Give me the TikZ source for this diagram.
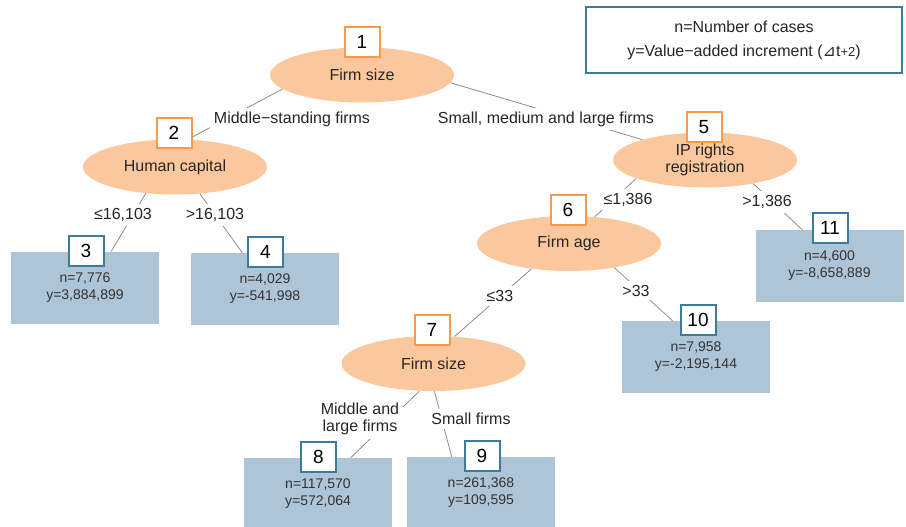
\documentclass[tikz,border=0pt]{standalone}
\usepackage{fontspec}
\setmainfont{Liberation Sans}
\newfontfamily\symfont{DejaVu Sans}
\usetikzlibrary{shapes.geometric}
\definecolor{peach}{HTML}{FAC89C}
\definecolor{orangeb}{HTML}{F79A4C}
\definecolor{leafblue}{HTML}{AEC4D7}
\definecolor{steelb}{HTML}{3E7A9C}
\definecolor{linegray}{HTML}{8C8C8C}
\tikzset{
  decision/.style={ellipse, fill=peach, draw=none, minimum width=184pt, minimum height=55pt, inner sep=0pt, align=center, font=\fontsize{16}{18}\selectfont, text=black!85},
  dnum/.style={draw=orangeb, line width=2pt, fill=white, minimum width=35pt, minimum height=30pt, inner sep=0pt, font=\fontsize{19}{20}\selectfont},
  leaf/.style={rectangle, fill=leafblue, draw=none, minimum width=148pt, minimum height=72pt, inner sep=0pt, align=center, font=\fontsize{14}{17}\selectfont, text=black!80},
  lnum/.style={draw=steelb, line width=2pt, fill=white, minimum width=35pt, minimum height=30pt, inner sep=0pt, font=\fontsize{19}{20}\selectfont},
  elabel/.style={fill=white, inner sep=4pt, align=center, font=\fontsize{16}{17}\selectfont, text=black!85},
  conn/.style={draw=linegray, line width=0.8pt},
  legendbox/.style={draw=steelb, line width=2pt, fill=white, minimum width=316pt, minimum height=66pt, align=center, font=\fontsize{16}{24}\selectfont, text=black!85}
}
\begin{document}
\begin{tikzpicture}[x=1pt,y=-1pt]
\useasboundingbox (0,0) rectangle (906,527);
% legend
\node[legendbox] (legend) at (744,40.5) {n=Number of cases\\y=Value−added increment ({\symfont ⊿}t{\fontsize{13}{13}\selectfont+2})};
% decision nodes
\node[decision] (e1) at (362,75) {Firm size};
\node[decision] (e2) at (175,167) {Human capital};
\node[decision] (e5) at (705,160) {IP rights\\[-1pt]registration};
\node[decision] (e6) at (569,243.5) {Firm age};
\node[decision] (e7) at (433.5,363.5) {Firm size};
% leaves
\node[leaf] (l3) at (85,287.5) {n=7,776\\y=3,884,899};
\node[leaf] (l4) at (265,289) {n=4,029\\y=-541,998};
\node[leaf] (l11) at (829.5,266) {n=4,600\\y=-8,658,889};
\node[leaf] (l10) at (696,357) {n=7,958\\y=-2,195,144};
\node[leaf] (l8) at (318,494) {n=117,570\\y=572,064};
\node[leaf] (l9) at (481,493) {n=261,368\\y=109,595};
% number boxes
\node[dnum] (b1) at (362,42) {1};
\node[dnum] (b2) at (174,133) {2};
\node[dnum] (b5) at (704,127) {5};
\node[dnum] (b6) at (568,210) {6};
\node[dnum] (b7) at (432,330) {7};
\node[lnum] (b3) at (86,251) {3};
\node[lnum] (b4) at (265.5,252) {4};
\node[lnum] (b11) at (830,228) {11};
\node[lnum] (b10) at (698,319.5) {10};
\node[lnum] (b8) at (318.5,456.5) {8};
\node[lnum] (b9) at (482,455.5) {9};
% connectors
\draw[conn] (e1.190.75) -- (b2.-12);
\draw[conn] (e1.-5.2) -- (e5.162.4);
\draw[conn] (e2.222.5) -- (l3.54.8);
\draw[conn] (e2.-47.1) -- (l4.122.6);
\draw[conn] (e5.195.7) -- (e6.46.7);
\draw[conn] (e5.-26.7) -- (l11.127.4);
\draw[conn] (e6.214.3) -- (e7.52.6);
\draw[conn] (e6.-28.1) -- (l10.123.7);
\draw[conn] (e7.243.6) -- (l8.48.4);
\draw[conn] (e7.-88) -- (l9.129.8);
% edge labels
\node[elabel] (t12) at (292,119) {Middle−standing firms};
\node[elabel] (t15) at (546,119) {Small, medium and large firms};
\node[elabel] (t23) at (123,215) {≤16,103};
\node[elabel] (t24) at (215,215) {>16,103};
\node[elabel] (t56) at (628,199.5) {≤1,386};
\node[elabel] (t511) at (767,202) {>1,386};
\node[elabel] (t67) at (500,296) {≤33};
\node[elabel] (t610) at (636,290.5) {>33};
\node[elabel] (t78) at (360,419) {Middle and\\large firms};
\node[elabel] (t79) at (471,419) {Small firms};
\end{tikzpicture}
\end{document}
